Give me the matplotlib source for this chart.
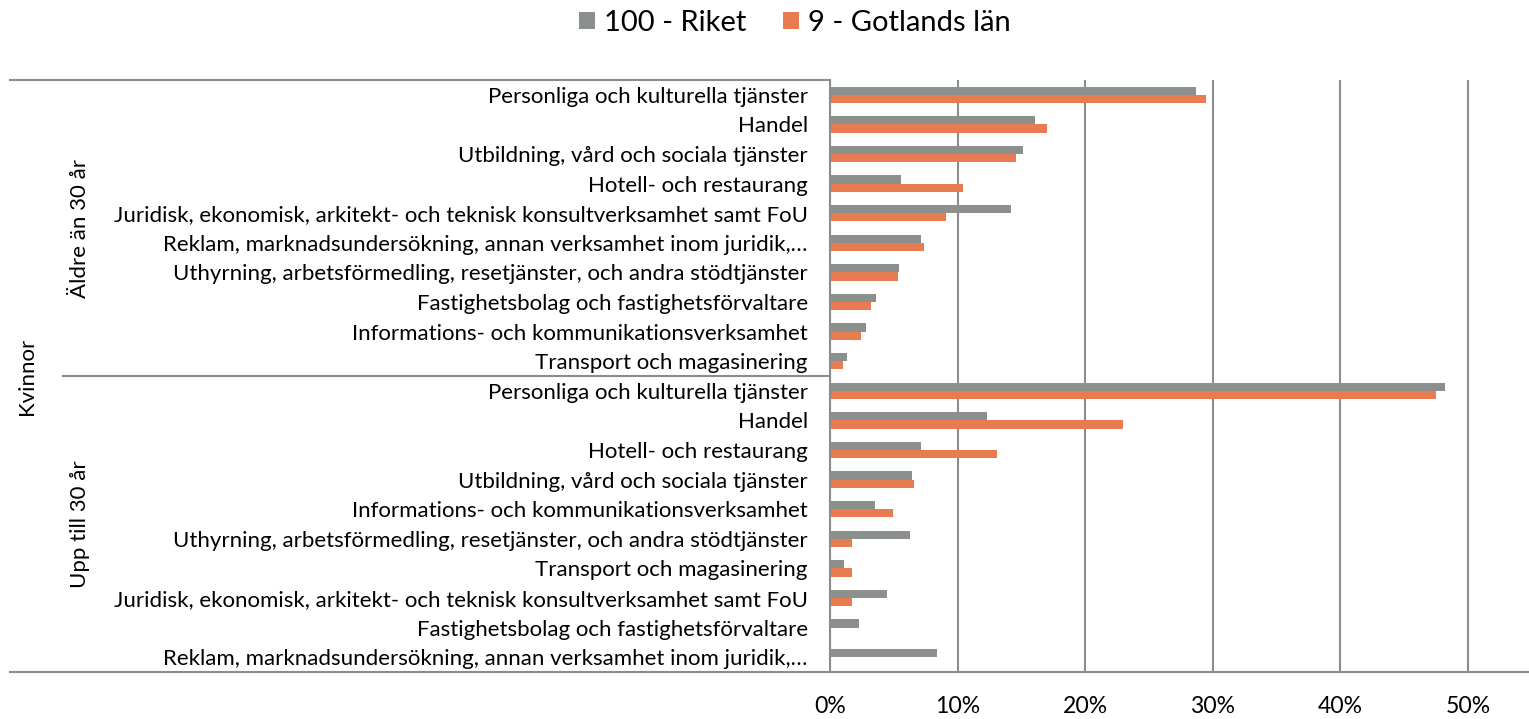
import matplotlib
matplotlib.use("Agg")
import matplotlib.pyplot as plt
import matplotlib.transforms as mtransforms
import numpy as np

# Kvinnor, andel per bransch (%)
groups = ["Äldre än 30 år", "Upp till 30 år"]
top_group = "Kvinnor"
series_names = ["100 - Riket", "9 - Gotlands län"]

cats_older = [
    "Personliga och kulturella tjänster",
    "Handel",
    "Utbildning, vård och sociala tjänster",
    "Hotell- och restaurang",
    "Juridisk, ekonomisk, arkitekt- och teknisk konsultverksamhet samt FoU",
    "Reklam, marknadsundersökning, annan verksamhet inom juridik,…",
    "Uthyrning, arbetsförmedling, resetjänster, och andra stödtjänster",
    "Fastighetsbolag och fastighetsförvaltare",
    "Informations- och kommunikationsverksamhet",
    "Transport och magasinering",
]
riket_older = [28.7, 16.1, 15.1, 5.6, 14.2, 7.1, 5.4, 3.6, 2.8, 1.3]
gotland_older = [29.5, 17.0, 14.6, 10.4, 9.1, 7.4, 5.3, 3.2, 2.4, 1.0]

cats_young = [
    "Personliga och kulturella tjänster",
    "Handel",
    "Hotell- och restaurang",
    "Utbildning, vård och sociala tjänster",
    "Informations- och kommunikationsverksamhet",
    "Uthyrning, arbetsförmedling, resetjänster, och andra stödtjänster",
    "Transport och magasinering",
    "Juridisk, ekonomisk, arkitekt- och teknisk konsultverksamhet samt FoU",
    "Fastighetsbolag och fastighetsförvaltare",
    "Reklam, marknadsundersökning, annan verksamhet inom juridik,…",
]
riket_young = [48.2, 12.3, 7.1, 6.4, 3.5, 6.3, 1.1, 4.5, 2.3, 8.4]
gotland_young = [47.5, 23.0, 13.1, 6.6, 4.9, 1.7, 1.7, 1.7, 0.0, 0.0]

x_ticks = [0, 10, 20, 30, 40, 50]

GRAY = "#8c908d"
ORANGE = "#e87b4f"
LINE = "#8c8c8c"
FONT = "Lato"

W, H = 1529, 719
fig = plt.figure(figsize=(W / 100, H / 100), dpi=100)
renderer = fig.canvas.get_renderer()


def fit_size(text, target_px, base=12):
    t = fig.text(0, 0, text, fontsize=base, family=FONT)
    w = t.get_window_extent(renderer).width
    t.remove()
    return base * target_px / w


cat_size = fit_size(cats_older[4], 690)
tick_size = fit_size("50%", 45)
leg_size = fit_size(series_names[1], 202)

left, right, top, bottom = 830, 1529, 80, 672
ax = fig.add_axes([left / W, 1 - bottom / H, (right - left) / W, (bottom - top) / H])

labels = cats_older + cats_young
riket = riket_older + riket_young
gotland = gotland_older + gotland_young
y = np.arange(len(labels))
h = 0.28

b1 = ax.barh(y - h / 2, riket, height=h, color=GRAY, label=series_names[0], zorder=3)
b2 = ax.barh(y + h / 2, gotland, height=h, color=ORANGE, label=series_names[1], zorder=3)

ax.set_ylim(len(labels) - 0.5, -0.5)
ax.set_xlim(0, (right - left) / 12.76)
ax.set_yticks(y)
ax.set_yticklabels(labels, fontsize=cat_size, family=FONT)
ax.set_xticks(x_ticks)
ax.set_xticklabels([f"{v}%" for v in x_ticks], fontsize=tick_size, family=FONT)
ax.tick_params(axis="y", length=0, pad=16)
ax.tick_params(axis="x", length=0, pad=17)

ax.grid(axis="x", color=LINE, linewidth=1.5, zorder=0)
for s in ["top", "right", "bottom"]:
    ax.spines[s].set_visible(False)
ax.spines["left"].set_color(LINE)
ax.spines["left"].set_linewidth(1.5)
ax.spines["left"].set_zorder(4)

# multi-level category axis lines
trans = mtransforms.blended_transform_factory(fig.transFigure, ax.transData)
n = len(cats_older)
ax.plot([10 / W, left / W], [-0.5, -0.5], transform=trans, color=LINE, lw=1.5, clip_on=False)
ax.plot([63 / W, left / W], [n - 0.5, n - 0.5], transform=trans, color=LINE, lw=1.5, clip_on=False)
ax.plot([10 / W, 1.0], [len(labels) - 0.5, len(labels) - 0.5], transform=trans, color=LINE,
        lw=1.5, clip_on=False)

ax.text(80 / W, (n - 1) / 2, groups[0], transform=trans, rotation=90, ha="center", va="center",
        fontsize=cat_size, family=FONT)
ax.text(80 / W, n + (n - 1) / 2, groups[1], transform=trans, rotation=90, ha="center",
        va="center", fontsize=cat_size, family=FONT)
ax.text(27 / W, n - 0.5, top_group, transform=trans, rotation=90, ha="center", va="center",
        fontsize=cat_size, family=FONT)

fig.legend(handles=[b1, b2], loc="center", bbox_to_anchor=(795 / W, 1 - 23 / H), ncol=2,
           frameon=False, prop={"family": FONT, "size": leg_size}, handlelength=0.55,
           handleheight=0.55, handletextpad=0.3, columnspacing=1.25, borderaxespad=0)

fig.savefig("out.png", dpi=100)
